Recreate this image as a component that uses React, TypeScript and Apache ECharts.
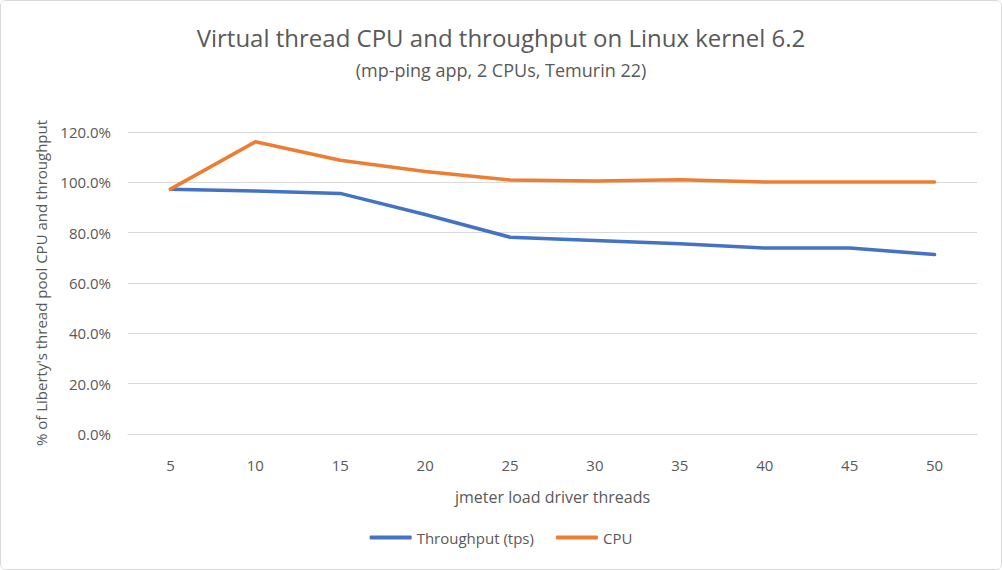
import React, { useEffect, useRef } from "react";
import * as echarts from "echarts";

const categories = ["5", "10", "15", "20", "25", "30", "35", "40", "45", "50"];
const throughput = [97.3, 96.6, 95.6, 87.2, 78.2, 76.9, 75.6, 73.9, 73.9, 71.3];
const cpu = [97.3, 116.1, 108.8, 104.3, 100.9, 100.5, 101.0, 100.1, 100.1, 100.1];
const titleText = "Virtual thread CPU and throughput on Linux kernel 6.2";
const subtitleText = "(mp-ping app, 2 CPUs, Temurin 22)";
const xName = "jmeter load driver threads";
const yName = "% of Liberty's thread pool CPU and throughput";

const FONT = "'Open Sans', 'Noto Sans', sans-serif";
const GREY = "#595959";

export default function App() {
  const ref = useRef<HTMLDivElement>(null);
  useEffect(() => {
    if (!ref.current) return;
    const chart = echarts.init(ref.current, undefined, { renderer: "svg" });
    chart.setOption({
      animation: false,
      backgroundColor: "#ffffff",
      textStyle: { fontFamily: FONT },
      title: {
        text: titleText,
        subtext: subtitleText,
        left: "center",
        top: 19,
        itemGap: 12,
        textStyle: { fontFamily: FONT, fontSize: 24, fontWeight: "normal", color: GREY },
        subtextStyle: { fontFamily: FONT, fontSize: 18, color: GREY },
      },
      legend: {
        bottom: 19,
        left: "center",
        icon: "roundRect",
        itemWidth: 42,
        itemHeight: 4,
        itemGap: 22,
        textStyle: { fontFamily: FONT, fontSize: 15, color: GREY },
        data: ["Throughput (tps)", "CPU"],
      },
      grid: { left: 127, right: 24, top: 131, bottom: 135, containLabel: false },
      xAxis: {
        type: "category",
        data: categories,
        boundaryGap: true,
        name: xName,
        nameLocation: "middle",
        nameGap: 55,
        nameTextStyle: { fontFamily: FONT, fontSize: 16, color: GREY },
        axisLine: { show: true, lineStyle: { color: "#d9d9d9", width: 1 } },
        axisTick: { show: false },
        axisLabel: { fontFamily: FONT, fontSize: 15, color: GREY, margin: 23 },
      },
      yAxis: {
        type: "value",
        min: 0,
        max: 120,
        interval: 20,
        name: yName,
        nameLocation: "middle",
        nameGap: 80,
        nameRotate: 90,
        nameTextStyle: { fontFamily: FONT, fontSize: 15, color: GREY },
        axisLine: { show: false },
        axisTick: { show: false },
        splitLine: { lineStyle: { color: "#d9d9d9", width: 1 } },
        axisLabel: {
          fontFamily: FONT,
          fontSize: 15,
          color: GREY,
          margin: 17,
          formatter: (v: number) => v.toFixed(1) + "%",
        },
      },
      series: [
        {
          name: "Throughput (tps)",
          type: "line",
          data: throughput,
          symbol: "none",
          lineStyle: { color: "#4472C4", width: 3.5, cap: "round", join: "round" },
          itemStyle: { color: "#4472C4" },
          z: 3,
        },
        {
          name: "CPU",
          type: "line",
          data: cpu,
          symbol: "none",
          lineStyle: { color: "#ED7D31", width: 3.5, cap: "round", join: "round" },
          itemStyle: { color: "#ED7D31" },
          z: 4,
        },
      ],
    });
    return () => chart.dispose();
  }, []);
  return (
    <div
      style={{
        position: "fixed",
        left: 0,
        top: 0,
        width: 1002,
        height: 570,
        boxSizing: "border-box",
        border: "1px solid #d9d9d9",
        borderRadius: 6,
        overflow: "hidden",
        background: "#fff",
      }}
    >
      <div ref={ref} style={{ width: 1000, height: 568 }} />
    </div>
  );
}
